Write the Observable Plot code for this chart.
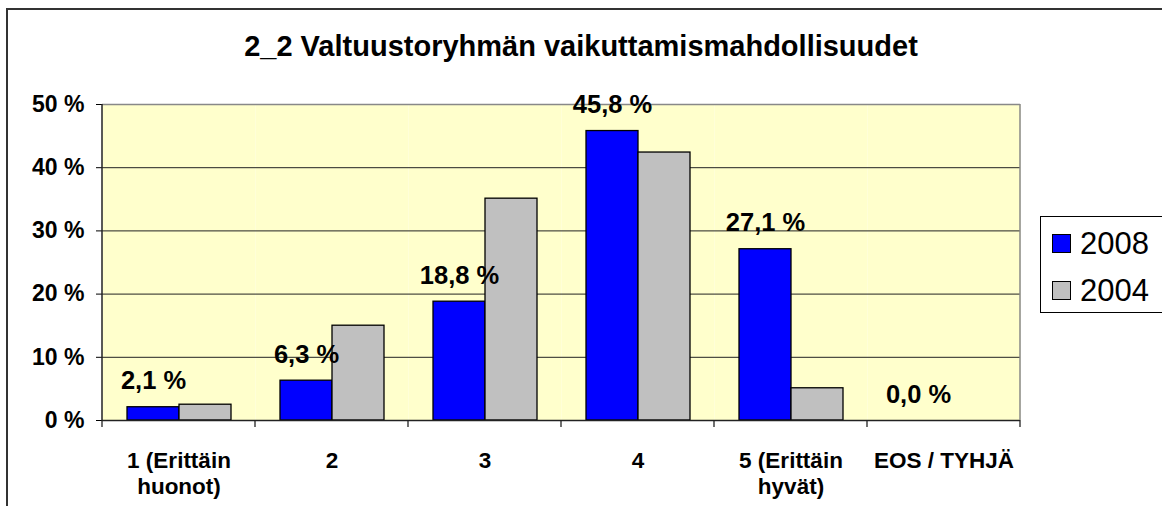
<!DOCTYPE html>
<html><head><meta charset="utf-8">
<script src="https://cdn.jsdelivr.net/npm/d3@7"></script>
<script src="https://cdn.jsdelivr.net/npm/@observablehq/plot@0.6"></script>
<style>
html,body{margin:0;padding:0;background:#fff;font-family:Arial,"Liberation Sans",sans-serif;overflow:hidden}
#wrap{position:relative;width:1162px;height:506px;overflow:hidden;background:#fff}
#chart{position:absolute;left:0;top:0}
#chart svg{display:block}
#title{position:absolute;left:0;width:1162px;top:32px;line-height:29px;text-align:center;font-weight:bold;font-size:29px;color:#000}
#legend{position:absolute;left:1040px;top:216px;width:140px;height:97px;border:1px solid #000;background:#fff;box-sizing:border-box}
.row{position:absolute;left:11px;display:flex;align-items:center;font-size:31px;line-height:31px;color:#000}
.sw{width:19px;height:19px;border:1px solid #000;margin-right:9px;box-sizing:border-box}
</style></head>
<body>
<div id="wrap">
  <div id="chart"></div>
  <div id="title"></div>
  <div id="legend"></div>
</div>
<script>
const title = "2_2 Valtuustoryhmän vaikuttamismahdollisuudet";
const categories = ["1 (Erittäin\nhuonot)", "2", "3", "4", "5 (Erittäin\nhyvät)", "EOS / TYHJÄ"];
const series = ["2008", "2004"];
const values2008 = [2.1, 6.3, 18.8, 45.8, 27.1, 0.0];
const values2004 = [2.5, 15.0, 35.1, 42.4, 5.1, 0.0];
const yTicks = [0, 10, 20, 30, 40, 50];
const colors = ["#0000FF", "#C0C0C0"];

const data = categories.flatMap((c, i) => [
  {cat: c, year: series[0], v: values2008[i]},
  {cat: c, year: series[1], v: values2004[i]}
]);
const fmt = v => v.toFixed(1).replace(".", ",") + " %";

const plot = Plot.plot({
  width: 1162, height: 506,
  marginLeft: 102, marginRight: 142, marginTop: 104, marginBottom: 86,
  style: {fontFamily: "Arial, 'Liberation Sans', sans-serif", fontWeight: "bold", background: "transparent", color: "#000", overflow: "visible"},
  fx: {domain: categories, padding: 0, label: null},
  x: {domain: series, paddingInner: 0, paddingOuter: 0.47, axis: null},
  y: {domain: [0, 50], axis: null, label: null},
  color: {domain: series, range: colors},
  marks: [
    Plot.frame({fill: "#FFFFCC", stroke: "none"}),
    Plot.ruleY([10, 20, 30, 40], {stroke: "#222", strokeWidth: 1}),
    Plot.ruleY([50], {stroke: "#888", strokeWidth: 1.5}),
    Plot.barY(data, {fx: "cat", x: "year", y: "v", fill: "year", stroke: "#000", strokeWidth: 1.3}),
    Plot.text(data.filter(d => d.year === series[0]), {fx: "cat", x: "year", y: "v", text: d => fmt(d.v), dy: -26, fontSize: 25.5, fill: "#000"}),
    Plot.ruleY([0], {stroke: "#222", strokeWidth: 1.3}),
    Plot.axisY({anchor: "left", ticks: yTicks, tickFormat: d => d + " %", tickSize: 6, tickPadding: 12, fontSize: 23, label: null}),
    Plot.axisFx({anchor: "bottom", tickSize: 0, tickPadding: 29, fontSize: 22.5, lineHeight: 1.16, label: null})
  ]
});

// axis line, category boundary ticks and right border, from the library's scales
const fx = plot.scale("fx"), y = plot.scale("y");
const bw = fx.bandwidth;
const bounds = categories.map(c => fx.apply(c)).concat([fx.apply(categories[categories.length - 1]) + bw]);
const svg = d3.select(plot);
const g = svg.append("g");
const y0 = y.apply(0), y50 = y.apply(50);
g.selectAll("line.tk").data(bounds).join("line")
  .attr("x1", d => d).attr("x2", d => d).attr("y1", y0).attr("y2", y0 + 7)
  .attr("stroke", "#222").attr("stroke-width", 1.3);
g.append("line").attr("x1", bounds[0]).attr("x2", bounds[0]).attr("y1", y50).attr("y2", y0)
  .attr("stroke", "#222").attr("stroke-width", 1.5);
g.append("line").attr("x1", bounds[bounds.length - 1]).attr("x2", bounds[bounds.length - 1]).attr("y1", y50).attr("y2", y0)
  .attr("stroke", "#888").attr("stroke-width", 1.5);
// chart-area outer border (top and left edges visible in the frame)
g.append("path").attr("d", "M7,510V9H1170").attr("fill", "none").attr("stroke", "#333").attr("stroke-width", 2);

document.getElementById("chart").appendChild(plot);
document.getElementById("title").textContent = title;

const leg = document.getElementById("legend");
series.forEach((s, i) => {
  const row = document.createElement("div");
  row.className = "row";
  row.style.top = (i === 0 ? 11 : 58) + "px";
  const sw = document.createElement("div");
  sw.className = "sw";
  sw.style.background = colors[i];
  row.appendChild(sw);
  row.appendChild(document.createTextNode(s));
  leg.appendChild(row);
});
</script>
</body></html>
